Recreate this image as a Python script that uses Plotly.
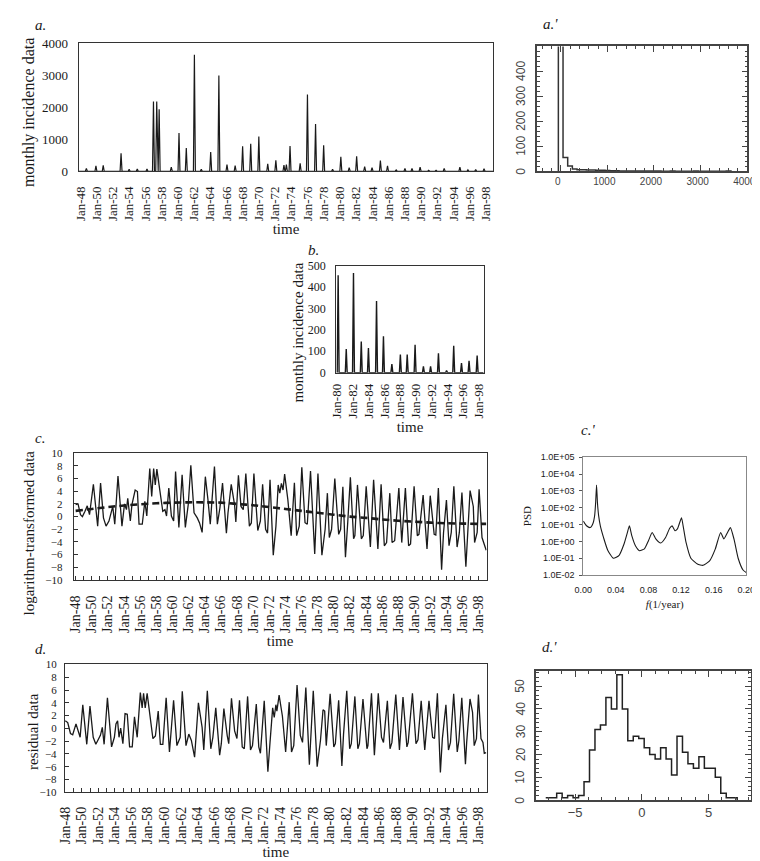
import plotly.graph_objects as go

W, H = 760, 861

# ---------------- data ----------------
# panel a / b : monthly incidence spikes (year as fractional, value)
a_peak_time = [48.72, 49.9, 50.8, 53.0, 54.0, 55.0, 56.2, 57.0, 57.4, 57.7,
               59.2, 60.15, 61.05, 62.05, 62.9, 64.06, 65.07, 66.07, 67.08, 68.0,
               69.0, 70.0, 71.1, 72.1, 73.1, 73.4, 73.85, 75.1, 76.0, 77.0,
               78.0, 79.1, 80.12, 81.15, 82.07, 83.06, 83.97, 85.0, 85.88, 86.95,
               88.03, 88.9, 89.9, 90.96, 91.87, 92.87, 93.9, 94.81, 95.8, 96.76,
               97.79]
a_peak_value = [90, 165, 185, 565, 60, 70, 70, 2180, 2180, 1940,
                130, 1200, 730, 3650, 60, 600, 3000, 210, 175, 780,
                860, 1090, 230, 340, 190, 210, 790, 250, 2400, 1480,
                810, 60, 455, 110, 465, 145, 115, 335, 170, 40,
                85, 85, 130, 30, 30, 90, 10, 125, 45, 55,
                80]

# panel a' : histogram of monthly incidence (bin width 100 from -50)
a_hist_left = -50
a_hist_width = 100
a_hist_counts = [505, 55, 21, 9, 6, 6, 5, 5, 4, 4, 3, 2, 2, 1, 1, 1, 1, 1, 1, 1,
                 1, 1, 0, 0, 1, 0, 0, 0, 0, 1, 0, 0, 0, 0, 0, 0, 1]
a_hist_xticks = [0, 1000, 2000, 3000, 4000]
a_hist_yticks = [0, 100, 200, 300, 400]

# panel c : log-transformed data (turning points) and trend
c_time = [48.0, 48.3, 48.6, 48.84, 49.16, 49.44, 49.72, 50.2, 50.73, 51.09,
          51.45, 51.77, 52.13, 52.37, 52.6, 52.85, 53.25, 53.74, 54.06, 54.3,
          54.46, 54.78, 54.98, 55.38, 55.66, 55.86, 56.26, 56.58, 56.82, 57.19,
          57.43, 57.67, 57.87, 58.07, 58.47, 58.8, 59.07, 59.27, 59.55, 59.87,
          60.15, 60.39, 60.8, 61.2, 61.6, 61.96, 62.28, 62.68, 63.08, 63.36,
          63.68, 64.08, 64.4, 64.69, 65.21, 65.57, 65.89, 66.21, 66.69, 66.89,
          67.29, 67.7, 67.86, 68.18, 68.5, 68.78, 69.1, 69.54, 69.78, 70.1,
          70.58, 70.9, 71.18, 71.55, 71.79, 72.1, 72.5, 72.83, 73.11, 73.31,
          73.51, 73.71, 73.91, 74.31, 74.72, 75.12, 75.40, 75.72, 76.04, 76.44,
          76.72, 77.12, 77.64, 78.04, 78.53, 78.93, 79.21, 79.45, 79.73, 80.13,
          80.61, 80.85, 81.13, 81.45, 81.73, 82.06, 82.46, 82.62, 82.94, 83.42,
          83.66, 84.02, 84.54, 84.94, 85.47, 85.87, 86.27, 86.55, 86.95, 87.23,
          87.55, 88.07, 88.43, 88.88, 89.28, 89.52, 89.96, 90.36, 90.56, 91.08,
          91.56, 91.96, 92.45, 92.65, 92.97, 93.37, 93.61, 93.97, 94.29, 94.57,
          94.89, 95.29, 95.57, 95.89, 96.38, 96.58, 96.90, 97.30, 97.46, 97.78,
          98.02, 98.38, 98.58, 98.9]
c_value = [1.9, 2.0, 0.3, 0.0, 0.85, 1.7, 0.3, 5.1, -1.5, 5.3,
           -0.2, -1.5, -0.7, 0.3, 1.6, -1.2, 6.4, -1.5, 2.0, 1.1,
           2.9, -0.7, 1.9, 4.2, 3.95, -1.2, -1.2, 2.4, 0.1, 7.6,
           3.2, 7.6, 5.0, 7.5, 4.2, 0.85, 1.1, 0.1, 4.5, 0.1,
           -0.7, 7.1, -1.7, 6.6, -1.7, 1.9, 8.1, 0.6, -0.2, -1.0,
           -2.5, 6.3, 2.7, -1.2, 7.9, -1.2, 1.4, 5.3, -2.6, 0.6,
           5.1, 1.9, -0.85, 6.5, 1.6, 1.1, 6.8, -1.5, -1.0, 6.8,
           -2.2, -0.7, 5.1, -2.0, -2.6, 5.8, -6.1, -1.5, 5.0, 3.7,
           5.25, 4.2, 6.7, 2.66, -3.0, 5.35, -3.0, -1.5, 7.8, -0.96,
           -1.2, 7.2, -5.9, 6.8, -6.1, -2.0, 3.7, -3.3, -2.0, 6.0,
           -2.8, -2.0, 4.7, -6.4, -1.0, 6.2, -3.5, -3.0, 5.0, -3.5,
           -3.0, 4.8, -4.8, 5.8, -5.1, 5.1, -4.6, -4.1, 3.7, -4.1,
           -3.8, 4.5, -4.1, 4.5, -4.6, -4.3, 4.8, -3.0, -2.8, 3.4,
           -5.1, 3.3, -2.8, -2.9, 4.5, -8.4, -2.5, 2.6, -4.6, -2.5,
           4.8, -4.8, -2.5, 3.8, -7.9, -3.0, 4.1, 1.6, -4.1, -2.5,
           4.3, -3.3, -4.1, -5.3]
trend_time = [48, 50, 52, 54, 56, 58, 60, 62, 64, 66, 68, 70, 72, 74, 76, 78,
              80, 82, 84, 86, 88, 90, 92, 94, 96, 98, 98.9]
trend_value = [0.9, 1.2, 1.5, 1.75, 1.95, 2.1, 2.2, 2.25, 2.25, 2.2, 2.0, 1.8,
               1.5, 1.2, 0.9, 0.6, 0.3, 0.0, -0.2, -0.45, -0.65, -0.8, -0.95,
               -1.05, -1.1, -1.15, -1.15]

# panel c' : power spectral density
psd_f = [0.000, 0.004, 0.0085, 0.012, 0.0140, 0.0152, 0.0163, 0.0174, 0.0188, 0.021,
         0.025, 0.030, 0.037, 0.044, 0.050, 0.054, 0.0566, 0.0595, 0.064, 0.069,
         0.075, 0.080, 0.0845, 0.089, 0.095, 0.101, 0.106, 0.109, 0.1125, 0.1155,
         0.1205, 0.1225, 0.126, 0.132, 0.140, 0.147, 0.155, 0.162, 0.1685, 0.1725,
         0.177, 0.1805, 0.185, 0.190, 0.196, 0.200]
psd_value = [16, 8.5, 6.6, 12, 35, 200, 2200, 200, 35, 8,
             1.6, 0.3, 0.1, 0.15, 0.7, 3.2, 8.3, 2.2, 0.55, 0.28,
             0.36, 1.1, 3.4, 1.4, 0.8, 1.7, 6.0, 8.3, 4.3, 5.5,
             25, 8.3, 0.9, 0.1, 0.045, 0.038, 0.07, 0.36, 3.4, 1.4,
             3.4, 6.6, 1.3, 0.1, 0.02, 0.014]
psd_ticks = [1e-2, 1e-1, 1e0, 1e1, 1e2, 1e3, 1e4, 1e5]
psd_ticktext = ["1.0E-02", "1.0E-01", "1.0E+00", "1.0E+01", "1.0E+02",
                "1.0E+03", "1.0E+04", "1.0E+05"]
f_ticks = [0, 0.04, 0.08, 0.12, 0.16, 0.2]
f_ticktext = ["0.00", "0.04", "0.08", "0.12", "0.16", "0.20"]

# panel d : residual data (turning points)
d_time = [48.0, 48.3, 48.63, 48.9, 49.3, 49.5, 49.8, 50.12, 50.6, 50.99,
          51.38, 51.7, 51.97, 52.25, 52.48, 52.7, 53.1, 53.6, 53.94, 54.13,
          54.33, 54.5, 54.7, 54.97, 55.23, 55.5, 55.78, 56.1, 56.37, 56.7,
          57.08, 57.3, 57.47, 57.67, 57.9, 58.2, 58.6, 58.9, 59.24, 59.5,
          59.8, 60.2, 60.6, 61.1, 61.5, 61.9, 62.15, 62.6, 62.94, 63.25,
          63.64, 64.1, 64.55, 64.75, 65.18, 65.6, 65.85, 66.2, 66.67, 66.87,
          67.18, 67.58, 67.77, 68.1, 68.48, 68.76, 69.07, 69.4, 69.65, 70.05,
          70.4, 70.64, 71.1, 71.4, 71.6, 72.06, 72.5, 72.76, 73.08, 73.27,
          73.47, 73.59, 73.86, 74.26, 74.65, 75.08, 75.36, 75.63, 76.03, 76.42,
          76.69, 77.09, 77.52, 77.99, 78.46, 78.86, 79.17, 79.37, 79.56, 80.03,
          80.47, 80.66, 81.06, 81.45, 81.65, 82.04, 82.39, 82.59, 83.02, 83.38,
          83.57, 84.0, 84.48, 84.6, 85.03, 85.38, 85.85, 86.24, 86.48, 86.95,
          87.27, 87.5, 87.97, 88.41, 88.84, 89.31, 89.47, 89.98, 90.41, 90.65,
          91.04, 91.47, 91.98, 92.42, 92.65, 93.0, 93.36, 93.6, 94.03, 94.34,
          94.58, 94.97, 95.4, 95.6, 95.95, 96.39, 96.54, 96.94, 97.25, 97.45,
          97.72, 97.96, 98.27, 98.51, 98.67, 98.9]
d_value = [1.2, 0.9, -0.8, -1.0, 0.7, -0.1, -1.4, 3.7, -2.5, 3.5,
           -1.4, -2.5, -1.9, -1.1, 0.15, -2.5, 4.8, -2.9, -1.4, 0.7,
           1.2, -1.4, 0.05, -2.4, 2.3, 2.2, -2.9, -2.9, 1.8, -1.4,
           5.6, 3.2, 5.5, 3.2, 5.5, 2.5, -1.6, -1.2, 2.7, -2.5,
           -2.5, 4.8, -3.7, 4.4, -2.7, -1.4, 5.8, -2.7, -0.9, -1.9,
           -4.5, 4.0, 0.15, -3.4, 5.9, -3.2, -1.4, 3.2, -4.2, -2.4,
           3.1, -1.1, -2.4, 4.7, -0.4, -1.6, 4.4, -2.9, -3.2, 5.0,
           -3.4, -2.7, 3.8, -2.9, -3.9, 4.3, -6.8, -2.2, 3.2, 1.7,
           3.7, 2.7, 5.2, 1.9, -3.7, 4.1, -3.7, -2.7, 6.8, -1.1,
           -2.2, 6.4, -5.7, 5.9, -6.0, -1.9, 2.9, 2.7, -2.7, 5.4,
           -2.9, -2.4, 4.4, -5.9, -0.9, 5.9, -3.2, -2.4, 5.0, -3.2,
           -2.4, 4.6, -3.2, -2.7, 5.5, -4.2, 5.5, -1.4, -2.2, 4.3,
           -3.2, -2.2, 5.3, -3.4, 4.9, -2.9, -2.2, 5.5, -2.4, -1.8,
           4.3, -3.4, 4.3, -1.4, -1.6, 5.5, -6.9, -1.6, 3.7, -3.4,
           -2.2, 5.4, -3.7, -1.9, 4.8, -5.6, -2.2, 4.6, 2.5, -2.7,
           -1.6, 5.3, -1.6, -2.2, -3.9, -3.8]

# panel d' : histogram of residuals
d_hist_left = -7.2
d_hist_width = 0.41
d_hist_counts = [1, 1, 3, 1, 2, 1, 2, 8, 22, 31, 33, 45, 40, 55, 40, 26, 28, 27,
                 23, 20, 18, 23, 18, 11, 28, 21, 16, 14, 19, 14, 14, 10, 3, 1, 1]
d_hist_xticks = [-5, 0, 5]
d_hist_yticks = [0, 10, 20, 30, 40, 50]

year_ticks = list(range(48, 99, 2))
year_ticktext = ["Jan-%02d" % y for y in year_ticks]
b_ticks = list(range(80, 99, 2))
b_ticktext = ["Jan-%02d" % y for y in b_ticks]

# ---------------- helpers ----------------
SERIF = "Liberation Serif, Times New Roman, serif"
SANS = "Liberation Sans, Arial, sans-serif"
INK = "#1a1a1a"
GRAY = "#444"


def px(x):  # pixel column -> paper x
    return x / W


def py(y):  # pixel row -> paper y
    return 1 - y / H


def dx(x0, x1):
    return [px(x0), px(x1)]


def dy(y0, y1):  # pixel rows (top, bottom)
    return [py(y1), py(y0)]


def spikes(times, values, half=0.12, start=None, end=None):
    xs, ys = [], []
    if start is not None:
        xs.append(start)
        ys.append(0)
    for t, v in zip(times, values):
        xs += [t - half, t, t + half]
        ys += [0, v, 0]
    if end is not None:
        xs.append(end)
        ys.append(0)
    return xs, ys


def step_outline(left, width, counts, close_left=True):
    edges = [left + i * width for i in range(len(counts) + 1)]
    xs = ([edges[0]] if close_left else []) + edges[:-1] + [edges[-1], edges[-1]]
    ys = ([0] if close_left else []) + list(counts) + [counts[-1], 0]
    return xs, ys


fig = go.Figure()

# a
ax, ay = spikes(a_peak_time, a_peak_value, start=47.75, end=98.95)
fig.add_trace(go.Scatter(x=ax, y=ay, mode="lines", line=dict(color=INK, width=1.2),
                         xaxis="x", yaxis="y", showlegend=False))
# a'
hx, hy = step_outline(a_hist_left, a_hist_width, a_hist_counts)
fig.add_trace(go.Scatter(x=hx, y=hy, mode="lines", line=dict(color="#333", width=1.5, shape="hv"),
                         xaxis="x2", yaxis="y2", showlegend=False))
# b
bt = [t for t in a_peak_time if t >= 79.9]
bv = [v for t, v in zip(a_peak_time, a_peak_value) if t >= 79.9]
bx, by = spikes(bt, bv, half=0.12, end=98.62)
fig.add_trace(go.Scatter(x=bx, y=by, mode="lines", line=dict(color=INK, width=1.4),
                         xaxis="x3", yaxis="y3", showlegend=False))
# c
fig.add_trace(go.Scatter(x=c_time, y=c_value, mode="lines", line=dict(color=INK, width=1.3),
                         xaxis="x4", yaxis="y4", showlegend=False))
fig.add_trace(go.Scatter(x=trend_time, y=trend_value, mode="lines",
                         line=dict(color=INK, width=2.6, dash="7px,4px", shape="spline"),
                         xaxis="x4", yaxis="y4", showlegend=False))
# c'
fig.add_trace(go.Scatter(x=psd_f, y=psd_value, mode="lines",
                         line=dict(color=INK, width=1.1, shape="spline", smoothing=0.5),
                         xaxis="x5", yaxis="y5", showlegend=False))
# d
fig.add_trace(go.Scatter(x=d_time, y=d_value, mode="lines", line=dict(color=INK, width=1.3),
                         xaxis="x6", yaxis="y6", showlegend=False))
# d'
gx, gy = step_outline(d_hist_left, d_hist_width, d_hist_counts, close_left=False)
fig.add_trace(go.Scatter(x=gx, y=gy, mode="lines", line=dict(color="#222", width=1.5, shape="hv"),
                         xaxis="x7", yaxis="y7", showlegend=False))

frame = dict(showline=True, mirror=True, linecolor="#333", linewidth=1,
             showgrid=False, zeroline=False)


def serif(size):
    return dict(family=SERIF, size=size, color=INK)


layout = dict(
    width=W, height=H, margin=dict(l=0, r=0, t=0, b=0),
    paper_bgcolor="white", plot_bgcolor="white", showlegend=False,
    # a
    xaxis=dict(frame, domain=dx(63, 488), anchor="y", range=[47.75, 98.95],
               tickmode="array", tickvals=year_ticks, ticktext=year_ticktext,
               tickangle=-90, tickfont=serif(13), ticks="", ticklabelstandoff=9,
               title=dict(text="time", font=serif(15), standoff=3)),
    yaxis=dict(frame, domain=dy(29, 159), anchor="x", range=[0, 4000],
               tickvals=[0, 1000, 2000, 3000, 4000], tickfont=serif(13),
               ticklabelstandoff=7),
    # a'
    xaxis2=dict(frame, domain=dx(533, 748), anchor="y2", range=[-500, 4000],
                linecolor=GRAY, linewidth=1.5, mirror="allticks",
                tickvals=a_hist_xticks, ticks="inside", ticklen=6, ticklabelshift=-3,
                tickcolor=GRAY, tickfont=dict(family=SANS, size=10, color=GRAY),
                minor=dict(dtick=200, tick0=0, ticks="inside", ticklen=3, tickcolor=GRAY)),
    yaxis2=dict(frame, domain=dy(32, 159), anchor="x2", range=[0, 500],
                linecolor=GRAY, linewidth=1.5, mirror="allticks",
                tickvals=a_hist_yticks, ticks="inside", ticklen=6,
                tickcolor=GRAY, showticklabels=False,
                minor=dict(dtick=20, tick0=0, ticks="inside", ticklen=3, tickcolor=GRAY)),
    # b
    xaxis3=dict(frame, domain=dx(327, 478), anchor="y3", range=[79.88, 98.62],
                tickmode="array", tickvals=b_ticks, ticktext=b_ticktext,
                tickangle=-90, tickfont=serif(13), ticks="", ticklabelstandoff=5,
                title=dict(text="time", font=serif(15), standoff=1)),
    yaxis3=dict(frame, domain=dy(255, 364), anchor="x3", range=[0, 500],
                tickvals=[0, 100, 200, 300, 400, 500], tickfont=serif(12),
                ticklabelstandoff=7),
    # c
    xaxis4=dict(frame, domain=dx(58, 481), anchor="y4", range=[47.75, 98.95],
                tickmode="array", tickvals=year_ticks, ticktext=year_ticktext,
                tickangle=-90, tickfont=serif(14), ticks="inside", ticklen=4, tickcolor="#333",
                ticklabelstandoff=9,
                minor=dict(tickmode="linear", tick0=48, dtick=1, ticks="inside", ticklen=4, tickcolor="#333"),
                title=dict(text="time", font=serif(15), standoff=2)),
    yaxis4=dict(frame, domain=dy(446, 575), anchor="x4", range=[-10, 10],
                tickvals=list(range(-10, 11, 2)), tickfont=serif(11),
                ticks="inside", ticklen=4, tickcolor="#333", ticklabelstandoff=8),
    # c'
    xaxis5=dict(frame, domain=dx(580, 747), anchor="y5", range=[0, 0.2],
                linecolor="#888", tickvals=f_ticks, ticktext=f_ticktext,
                tickfont=dict(family=SANS, size=9, color=INK), ticks="",
                ticklabelstandoff=6,
                title=dict(text="<i>f</i>(1/year)", font=serif(11), standoff=6)),
    yaxis5=dict(frame, domain=dy(450, 570), anchor="x5", type="log", range=[-2, 5],
                linecolor="#888", tickvals=psd_ticks, ticktext=psd_ticktext,
                tickfont=dict(family=SANS, size=9, color=INK), ticks="outside",
                ticklen=3, tickcolor="#555", ticklabelstandoff=3,
                title=dict(text="PSD", font=serif(11), standoff=6)),
    # d
    xaxis6=dict(frame, domain=dx(49, 481), anchor="y6", range=[47.95, 98.95],
                tickmode="array", tickvals=year_ticks, ticktext=year_ticktext,
                tickangle=-90, tickfont=serif(14), ticks="inside", ticklen=4, tickcolor="#333",
                ticklabelstandoff=8,
                minor=dict(tickmode="linear", tick0=48, dtick=1, ticks="inside", ticklen=4, tickcolor="#333"),
                title=dict(text="time", font=serif(15), standoff=0)),
    yaxis6=dict(frame, domain=dy(661, 791), anchor="x6", range=[-10, 10],
                tickvals=list(range(-10, 11, 2)), tickfont=serif(11),
                ticks="inside", ticklen=4, tickcolor="#333", ticklabelstandoff=5),
    # d'
    xaxis7=dict(frame, domain=dx(532, 752), anchor="y7", range=[-7.9, 8.2],
                linecolor=GRAY, linewidth=1.5, mirror="allticks",
                tickvals=d_hist_xticks, ticks="inside", ticklen=6, tickcolor=GRAY,
                tickfont=dict(family=SANS, size=13, color=GRAY),
                minor=dict(dtick=1, tick0=0, ticks="inside", ticklen=3, tickcolor=GRAY)),
    yaxis7=dict(frame, domain=dy(668, 799), anchor="x7", range=[0, 56.5],
                linecolor=GRAY, linewidth=1.5, mirror="allticks",
                tickvals=d_hist_yticks, ticks="inside", ticklen=6, tickcolor=GRAY,
                showticklabels=False,
                minor=dict(dtick=2, tick0=0, ticks="inside", ticklen=3, tickcolor=GRAY)),
)
fig.update_layout(**layout)

# rotated y tick labels for the two histogram panels
for val in a_hist_yticks:
    fig.add_annotation(text=str(val), x=px(533 - 7), y=val, xref="paper", yref="y2",
                       showarrow=False, textangle=-90, xanchor="right", yanchor="middle",
                       font=dict(family=SANS, size=12, color=GRAY))
for val in d_hist_yticks:
    fig.add_annotation(text=str(val), x=px(532 - 7), y=val, xref="paper", yref="y7",
                       showarrow=False, textangle=-90, xanchor="right", yanchor="middle",
                       font=dict(family=SANS, size=12, color=GRAY))

# y-axis titles (rotated text, placed as in the original)
y_titles = [("monthly incidence data", 13, 99, 16),
            ("monthly incidence data", 288, 323, 15),
            ("logarithm-transformed data", 12, 527, 15),
            ("residual data", 17, 729, 15)]
for txt, cx, cy, size in y_titles:
    fig.add_annotation(text=txt, x=px(cx), y=py(cy), xref="paper", yref="paper",
                       showarrow=False, textangle=-90, xanchor="center", yanchor="middle",
                       font=serif(size))

labels = [("a.", 24, 10), ("a.'", 546, 9), ("b.", 304, 239), ("c.", 24, 430),
          ("c.'", 585, 422), ("d.", 24, 645), ("d.'", 545, 643)]
for txt, lx, ly in labels:
    fig.add_annotation(text="<i>%s</i>" % txt, x=px(lx), y=py(ly), xref="paper", yref="paper",
                       showarrow=False, xanchor="center", yanchor="middle",
                       font=dict(family=SERIF, size=15, color=INK))

fig.write_html("out.html")
